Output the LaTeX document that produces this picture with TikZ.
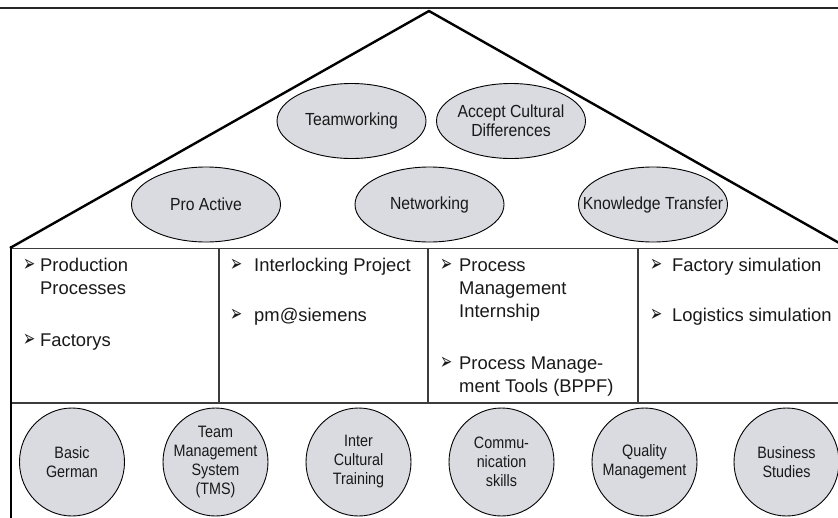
\documentclass[tikz,border=0pt]{standalone}
\usepackage{fontspec}
\usepackage{graphicx}
\setmainfont{Liberation Sans}
\newfontfamily\topfont[FakeStretch=0.9]{Liberation Sans}
\newfontfamily\botfont[FakeStretch=0.87]{Liberation Sans}
\newfontfamily\symfont{DejaVu Sans}
\usetikzlibrary{shapes.geometric}
\definecolor{ellfill}{RGB}{217,219,224}
\definecolor{txt}{RGB}{25,25,25}
\definecolor{thinline}{RGB}{60,60,60}
\newcommand{\bulglyph}{\scalebox{1}[1.6]{➢}}
\tikzset{
  topell/.style={ellipse, draw=black, line width=0.9pt, fill=ellfill, inner sep=0pt,
    minimum width=149pt, minimum height=75pt},
  toptxt/.style={align=center, text=txt, inner sep=0pt,
    font=\topfont\fontsize{17.5}{19}\selectfont},
  botell/.style={ellipse, draw=black, line width=0.9pt, fill=ellfill, inner sep=0pt,
    minimum width=105pt, minimum height=108pt},
  bottxt/.style={align=center, text=txt, inner sep=0pt,
    font=\botfont\fontsize{16.5}{19}\selectfont},
  itemtext/.style={anchor=base west, inner sep=0pt, text=txt,
    font=\fontsize{18.4}{23}\selectfont},
  bul/.style={anchor=base west, inner sep=0pt, text=txt,
    font=\symfont\fontsize{14.5}{16}\selectfont},
  roof/.style={line width=2.4pt, black},
  thin/.style={line width=1.1pt, thinline},
}
\begin{document}
\begin{tikzpicture}[x=1pt,y=-1pt]
\useasboundingbox (0,0) rectangle (838,517);
\clip (0,0) rectangle (838,517);
\fill[white] (0,0) rectangle (838,517);

% top line and roof
\coordinate (tl) at (0,8);
\coordinate (tr) at (838,8);
\draw[line width=1.4pt, black!85] (tl) -- (tr);
\coordinate (apex) at (429,11);
\coordinate (eaveL) at (10,248);
\coordinate (eaveR) at (848,248);
\draw[roof, line join=miter] (eaveL) -- (apex) -- (eaveR);

% table frame
\coordinate (tabTL) at (11,248.5);
\coordinate (tabTR) at (838,248.5);
\coordinate (rowL) at (11,403);
\coordinate (rowR) at (838,403);
\coordinate (botL) at (11,517);
\draw[thin] (tabTL) -- (tabTR);
\draw[thin] (rowL) -- (rowR);
\draw[roof, line cap=rect] (11,247.5) -- (botL);
\coordinate (c1t) at (219,248.5); \coordinate (c1b) at (219,403);
\coordinate (c2t) at (428,248.5); \coordinate (c2b) at (428,403);
\coordinate (c3t) at (638,248.5); \coordinate (c3b) at (638,403);
\draw[thin] (c1t) -- (c1b);
\draw[thin] (c2t) -- (c2b);
\draw[thin] (c3t) -- (c3b);

% roof ellipses
\node[topell] (team) at (351.5,121) {};
\node[toptxt] (teamT) at (team.center) {Teamworking};
\node[topell] (acc) at (511,121) {};
\node[toptxt] (accT) at (acc.center) {Accept Cultural\\Differences};
\node[topell] (pro) at (206,204.5) {};
\node[toptxt] (proT) at (pro.center) {Pro Active};
\node[topell] (net) at (429.5,204.5) {};
\node[toptxt] (netT) at (net.center) {Networking};
\node[topell] (know) at (653,204.5) {};
\node[toptxt] (knowT) at (know.center) {Knowledge Transfer};

% column 1
\node[bul] (b11) at (23,271) {\bulglyph};
\node[itemtext] (t11a) at (40,271) {Production};
\node[itemtext] (t11b) at (40,294) {Processes};
\node[bul] (b12) at (23,346) {\bulglyph};
\node[itemtext] (t12) at (40,346) {Factorys};
% column 2
\node[bul] (b21) at (230,271) {\bulglyph};
\node[itemtext] (t21) at (254,271) {Interlocking Project};
\node[bul] (b22) at (230,321) {\bulglyph};
\node[itemtext] (t22) at (254,321) {pm@siemens};
% column 3
\node[bul] (b31) at (440,271) {\bulglyph};
\node[itemtext] (t31a) at (459,271) {Process};
\node[itemtext] (t31b) at (459,294) {Management};
\node[itemtext] (t31c) at (459,317) {Internship};
\node[bul] (b32) at (440,369) {\bulglyph};
\node[itemtext] (t32a) at (459,369) {Process Manage-};
\node[itemtext] (t32b) at (459,392) {ment Tools (BPPF)};
% column 4
\node[bul] (b41) at (650,271) {\bulglyph};
\node[itemtext] (t41) at (672,271) {Factory simulation};
\node[bul] (b42) at (650,321) {\bulglyph};
\node[itemtext] (t42) at (672,321) {Logistics simulation};

% foundation circles
\node[botell] (ger) at (72,462) {};
\node[bottxt] (gerT) at (ger.center) {Basic\\German};
\node[botell] (tms) at (215.5,462) {};
\node[bottxt] (tmsT) at (tms.center) {Team\\Management\\System\\(TMS)};
\node[botell] (icc) at (358.5,462) {};
\node[bottxt] (iccT) at (icc.center) {Inter\\Cultural\\Training};
\node[botell] (com) at (501.5,462) {};
\node[bottxt] (comT) at (com.center) {Commu-\\nication\\skills};
\node[botell] (qm) at (644.5,462) {};
\node[bottxt] (qmT) at (qm.center) {Quality\\Management};
\node[botell] (bus) at (786.5,462) {};
\node[bottxt] (busT) at (bus.center) {Business\\Studies};
\end{tikzpicture}
\end{document}
